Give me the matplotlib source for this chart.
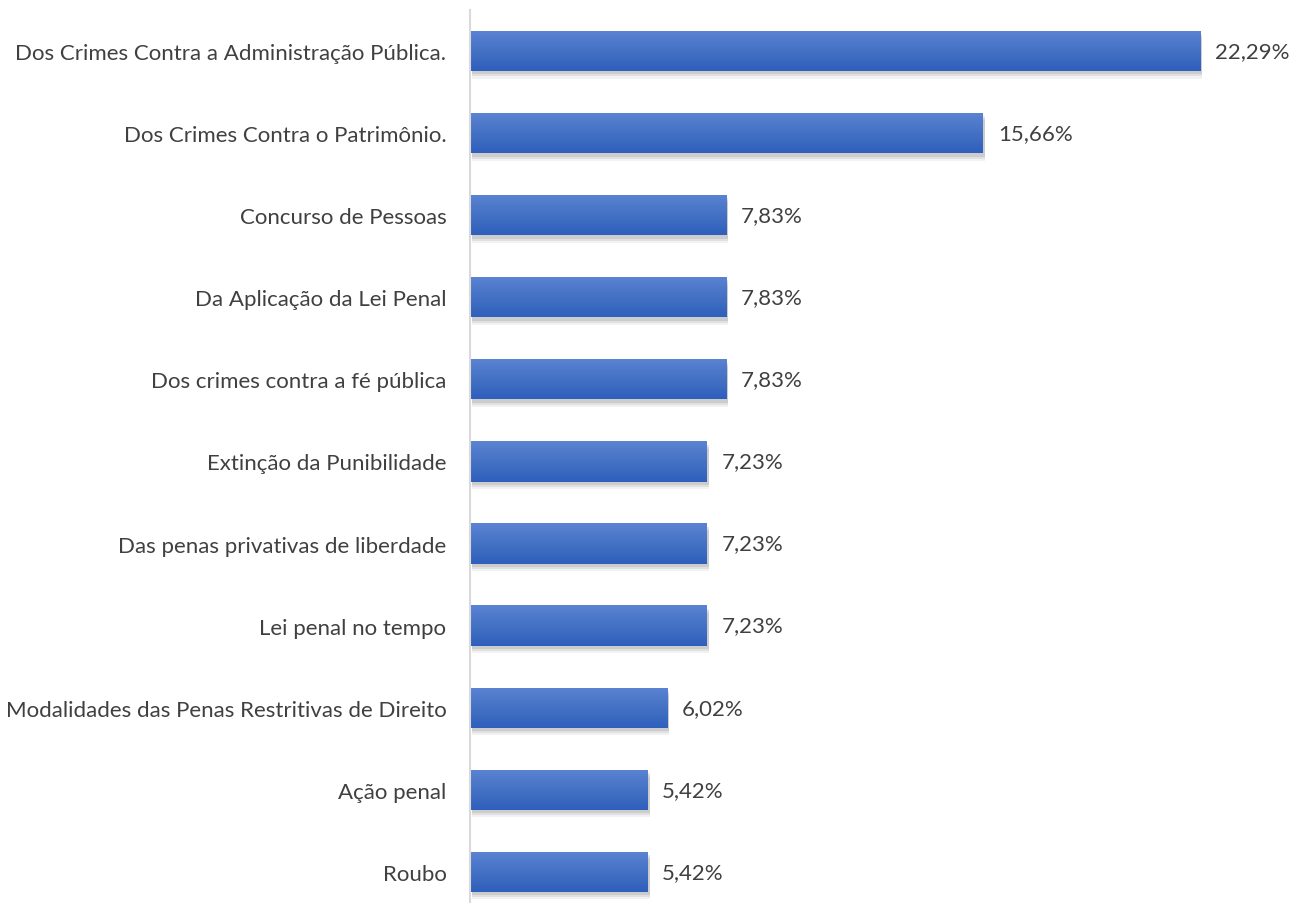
import matplotlib.pyplot as plt
import numpy as np
from matplotlib.patches import Rectangle
from matplotlib.colors import LinearSegmentedColormap

plt.rcParams['font.family'] = ['Lato', 'DejaVu Sans']

categorias = ['Dos Crimes Contra a Administração Pública.',
              'Dos Crimes Contra o Patrimônio.',
              'Concurso de Pessoas',
              'Da Aplicação da Lei Penal',
              'Dos crimes contra a fé pública',
              'Extinção da Punibilidade',
              'Das penas privativas de liberdade',
              'Lei penal no tempo',
              'Modalidades das Penas Restritivas de Direito',
              'Ação penal',
              'Roubo']
valores = [22.29, 15.66, 7.83, 7.83, 7.83, 7.23, 7.23, 7.23, 6.02, 5.42, 5.42]
rotulos = ['22,29%', '15,66%', '7,83%', '7,83%', '7,83%', '7,23%',
           '7,23%', '7,23%', '6,02%', '5,42%', '5,42%']

fig = plt.figure(figsize=(12.94, 9.04), dpi=100)
ax = fig.add_axes([470 / 1294, 0, 760 / 1294, 893 / 904])

# gradiente vertical das barras (claro em cima, escuro embaixo)
cmap = LinearSegmentedColormap.from_list('azul', ['#5b83d3', '#4472c4', '#2f5fbd'])
grad = np.linspace(0, 1, 64).reshape(-1, 1)

altura = 0.49
y = np.arange(len(categorias))
for i, v in enumerate(valores):
    # sombra
    for k, a in enumerate([0.09, 0.07, 0.05]):
        d = 0.04 + 0.025 * k
        sh = Rectangle((0.06, i - altura / 2 + d), v, altura, color='black',
                       alpha=a, lw=0, zorder=1)
        ax.add_patch(sh)
    r = Rectangle((0, i - altura / 2), v, altura, facecolor='none', lw=0, zorder=2)
    ax.add_patch(r)
    im = ax.imshow(grad, cmap=cmap, aspect='auto',
                   extent=(0, v, i + altura / 2, i - altura / 2), zorder=2)
    im.set_clip_path(r)
    ax.text(v + 0.45, i, rotulos[i], va='center', ha='left', fontsize=16,
            color='#404040')

ax.set_xlim(0, 23.2)
ax.set_ylim(10.38, -0.5)
ax.set_yticks(y)
ax.set_yticklabels(categorias, fontsize=16, color='#404040')
ax.tick_params(axis='y', length=0, pad=17)
ax.set_xticks([])
for s in ['top', 'right', 'bottom']:
    ax.spines[s].set_visible(False)
ax.spines['left'].set_color('#d9d9d9')
ax.spines['left'].set_linewidth(1.5)

plt.savefig('out.png', dpi=100)
